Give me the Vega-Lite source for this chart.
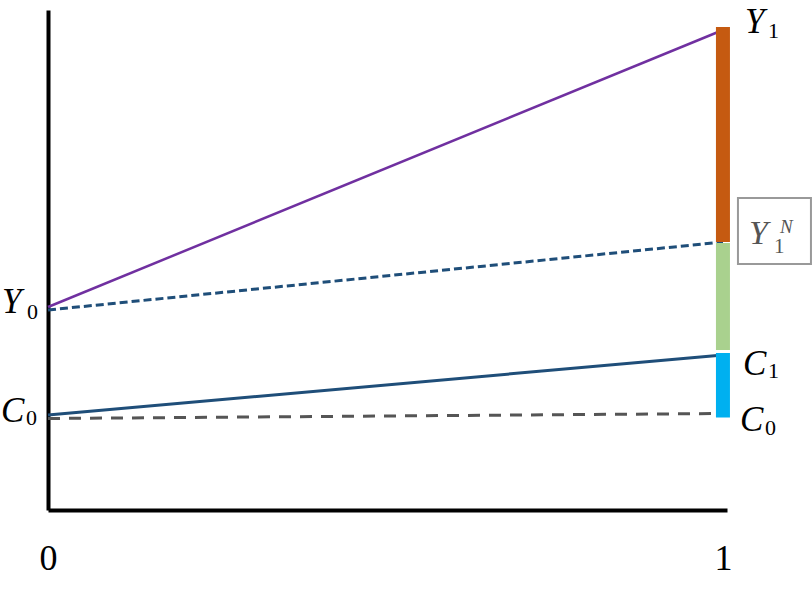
{
  "$schema": "https://vega.github.io/schema/vega-lite/v6.json",
  "autosize": {"type": "none"},
  "padding": {"left": 48, "top": 10, "right": 85, "bottom": 92},
  "width": 679,
  "height": 500,
  "background": "white",
  "config": {"view": {"stroke": null}},
  "datasets": {
    "lines": [
      {"series": "Y", "t": 0, "v": 40.6}, {"series": "Y", "t": 1, "v": 96},
      {"series": "YN", "t": 0, "v": 40}, {"series": "YN", "t": 1, "v": 53.6},
      {"series": "C", "t": 0, "v": 19}, {"series": "C", "t": 1, "v": 31},
      {"series": "CN", "t": 0, "v": 18.3}, {"series": "CN", "t": 1, "v": 19.3}
    ],
    "bars": [
      {"seg": "a", "t": 1, "v": 53.6, "v2": 96.6},
      {"seg": "b", "t": 1, "v": 32, "v2": 53.4},
      {"seg": "c", "t": 1, "v": 18.5, "v2": 31.4}
    ],
    "labels": [
      {"id": "Y0", "main": "Y", "sub": "0", "t": 0, "v": 40.6},
      {"id": "C0L", "main": "C", "sub": "0", "t": 0, "v": 19},
      {"id": "Y1", "main": "Y", "sub": "1", "t": 1, "v": 96},
      {"id": "YN", "main": "Y", "sub": "1", "sup": "N", "t": 1, "v": 53.6},
      {"id": "C1", "main": "C", "sub": "1", "t": 1, "v": 31},
      {"id": "C0R", "main": "C", "sub": "0", "t": 1, "v": 19.3}
    ]
  },
  "encoding": {
    "x": {
      "field": "t", "type": "quantitative",
      "scale": {"domain": [0, 1.006], "nice": false, "zero": false},
      "axis": {
        "values": [0, 1], "format": "d", "title": null, "grid": false,
        "ticks": false, "tickSize": 0, "domainColor": "black", "domainWidth": 4,
        "labelFont": "Liberation Serif", "labelFontSize": 36, "labelColor": "black",
        "labelBaseline": "alphabetic", "labelPadding": 59, "labelAngle": 0,
        "labelFlush": false, "labelOverlap": false
      }
    },
    "y": {
      "field": "v", "type": "quantitative",
      "scale": {"domain": [0, 100], "nice": false, "zero": false},
      "axis": {
        "title": null, "grid": false, "ticks": false, "labels": false,
        "domainColor": "black", "domainWidth": 4
      }
    }
  },
  "layer": [
    {"data": {"name": "lines"}, "transform": [{"filter": "datum.series == 'CN'"}],
     "mark": {"type": "line", "color": "#555555", "strokeWidth": 3, "strokeDash": [12, 9]}},
    {"data": {"name": "lines"}, "transform": [{"filter": "datum.series == 'C'"}],
     "mark": {"type": "line", "color": "#1F4E79", "strokeWidth": 3}},
    {"data": {"name": "lines"}, "transform": [{"filter": "datum.series == 'YN'"}],
     "mark": {"type": "line", "color": "#1F4E79", "strokeWidth": 3, "strokeDash": [8, 4]}},
    {"data": {"name": "lines"}, "transform": [{"filter": "datum.series == 'Y'"}],
     "mark": {"type": "line", "color": "#7030A0", "strokeWidth": 2.5}},
    {"data": {"name": "bars"},
     "mark": {"type": "rule", "strokeWidth": 14, "strokeCap": "butt"},
     "encoding": {
       "y2": {"field": "v2"},
       "color": {"field": "seg", "type": "nominal", "legend": null,
                 "scale": {"domain": ["a", "b", "c"], "range": ["#C55A11", "#A9D18E", "#00B0F0"]}}
     }},
    {"data": {"name": "labels"}, "transform": [{"filter": "datum.id == 'YN'"}],
     "mark": {"type": "point", "shape": "M1.5,-4.4L8.8,-4.4L8.8,2.2L1.5,2.2Z", "size": 400,
              "filled": false, "stroke": "#999999", "strokeWidth": 2, "opacity": 1}},

    {"data": {"name": "labels"}, "transform": [{"filter": "datum.id == 'Y0'"}],
     "mark": {"type": "text", "align": "left", "baseline": "alphabetic", "dx": -46, "dy": 6,
              "font": "Liberation Serif", "fontStyle": "italic", "fontSize": 35, "color": "black"},
     "encoding": {"text": {"field": "main"}}},
    {"data": {"name": "labels"}, "transform": [{"filter": "datum.id == 'Y0'"}],
     "mark": {"type": "text", "align": "left", "baseline": "alphabetic", "dx": -21, "dy": 12,
              "font": "Liberation Serif", "fontSize": 22, "color": "black"},
     "encoding": {"text": {"field": "sub"}}},
    {"data": {"name": "labels"}, "transform": [{"filter": "datum.id == 'C0L'"}],
     "mark": {"type": "text", "align": "left", "baseline": "alphabetic", "dx": -47, "dy": 7,
              "font": "Liberation Serif", "fontStyle": "italic", "fontSize": 35, "color": "black"},
     "encoding": {"text": {"field": "main"}}},
    {"data": {"name": "labels"}, "transform": [{"filter": "datum.id == 'C0L'"}],
     "mark": {"type": "text", "align": "left", "baseline": "alphabetic", "dx": -22, "dy": 10,
              "font": "Liberation Serif", "fontSize": 22, "color": "black"},
     "encoding": {"text": {"field": "sub"}}},
    {"data": {"name": "labels"}, "transform": [{"filter": "datum.id == 'Y1'"}],
     "mark": {"type": "text", "align": "left", "baseline": "alphabetic", "dx": 22, "dy": 3,
              "font": "Liberation Serif", "fontStyle": "italic", "fontSize": 35, "color": "black"},
     "encoding": {"text": {"field": "main"}}},
    {"data": {"name": "labels"}, "transform": [{"filter": "datum.id == 'Y1'"}],
     "mark": {"type": "text", "align": "left", "baseline": "alphabetic", "dx": 45, "dy": 8,
              "font": "Liberation Serif", "fontSize": 22, "color": "black"},
     "encoding": {"text": {"field": "sub"}}},
    {"data": {"name": "labels"}, "transform": [{"filter": "datum.id == 'C1'"}],
     "mark": {"type": "text", "align": "left", "baseline": "alphabetic", "dx": 20, "dy": 20,
              "font": "Liberation Serif", "fontStyle": "italic", "fontSize": 35, "color": "black"},
     "encoding": {"text": {"field": "main"}}},
    {"data": {"name": "labels"}, "transform": [{"filter": "datum.id == 'C1'"}],
     "mark": {"type": "text", "align": "left", "baseline": "alphabetic", "dx": 45, "dy": 23,
              "font": "Liberation Serif", "fontSize": 22, "color": "black"},
     "encoding": {"text": {"field": "sub"}}},
    {"data": {"name": "labels"}, "transform": [{"filter": "datum.id == 'C0R'"}],
     "mark": {"type": "text", "align": "left", "baseline": "alphabetic", "dx": 17, "dy": 17,
              "font": "Liberation Serif", "fontStyle": "italic", "fontSize": 35, "color": "black"},
     "encoding": {"text": {"field": "main"}}},
    {"data": {"name": "labels"}, "transform": [{"filter": "datum.id == 'C0R'"}],
     "mark": {"type": "text", "align": "left", "baseline": "alphabetic", "dx": 42, "dy": 21,
              "font": "Liberation Serif", "fontSize": 22, "color": "black"},
     "encoding": {"text": {"field": "sub"}}},
    {"data": {"name": "labels"}, "transform": [{"filter": "datum.id == 'YN'"}],
     "mark": {"type": "text", "align": "left", "baseline": "alphabetic", "dx": 26, "dy": 2,
              "font": "Liberation Serif", "fontStyle": "italic", "fontSize": 34, "color": "#555555"},
     "encoding": {"text": {"field": "main"}}},
    {"data": {"name": "labels"}, "transform": [{"filter": "datum.id == 'YN'"}],
     "mark": {"type": "text", "align": "left", "baseline": "alphabetic", "dx": 51, "dy": 11,
              "font": "Liberation Serif", "fontSize": 21, "color": "#555555"},
     "encoding": {"text": {"field": "sub"}}},
    {"data": {"name": "labels"}, "transform": [{"filter": "datum.id == 'YN'"}],
     "mark": {"type": "text", "align": "left", "baseline": "alphabetic", "dx": 57, "dy": -9,
              "font": "Liberation Serif", "fontStyle": "italic", "fontSize": 19, "color": "#555555"},
     "encoding": {"text": {"field": "sup"}}}
  ]
}
